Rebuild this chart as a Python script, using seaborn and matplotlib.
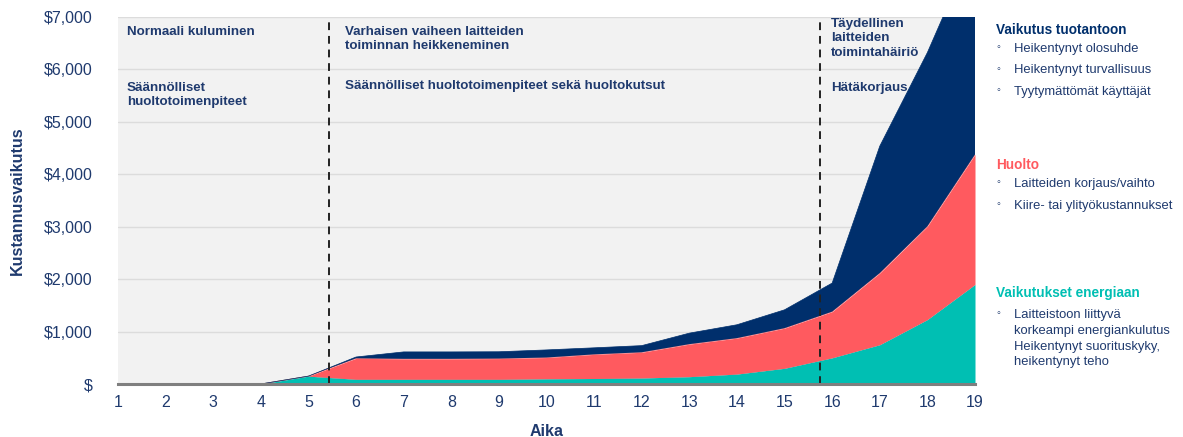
import numpy as np
import pandas as pd
import matplotlib
matplotlib.use("Agg")
import matplotlib.pyplot as plt
import seaborn as sns

# ---- data ----
aika = list(range(1, 20))
energia = [0, 0, 0, 0, 150, 90, 90, 90, 90, 100, 105, 115, 140, 190, 300, 500, 750, 1230, 1900]
huolto = [0, 0, 0, 0, 0, 400, 390, 390, 395, 405, 460, 490, 620, 685, 765, 880, 1366, 1778, 2478]
tuotanto = [0, 0, 0, 0, 0, 25, 132, 132, 130, 145, 125, 127, 210, 255, 350, 545, 2421, 3314, 4022]
yticks = [0, 1000, 2000, 3000, 4000, 5000, 6000, 7000]
ytick_labels = ["$", "$1,000", "$2,000", "$3,000", "$4,000", "$5,000", "$6,000", "$7,000"]
phase_lines = [5.43, 15.75]

NAVY = "#002f6c"
RED = "#ff5a5f"
TEAL = "#00bfb3"
TXT = "#1f3a6e"

sns.set_style("white")
plt.rcParams["font.family"] = ["Liberation Sans", "DejaVu Sans"]

df = pd.DataFrame({"Aika": aika, "energia": energia, "huolto": huolto, "tuotanto": tuotanto})
df["c1"] = df["energia"]
df["c2"] = df["c1"] + df["huolto"]
df["c3"] = df["c2"] + df["tuotanto"]

fig = plt.figure(figsize=(11.83, 4.37), dpi=100)
ax = fig.add_axes([118 / 1183, 53 / 437, (975 - 118) / 1183, (384 - 17) / 437])
ax.set_facecolor("#f2f2f2")

for lo, hi, col in [(None, "c1", TEAL), ("c1", "c2", RED), ("c2", "c3", NAVY)]:
    base = np.zeros(len(df)) if lo is None else df[lo].values
    ax.fill_between(df["Aika"], base, df[hi], color=col, linewidth=0, zorder=2)
    sns.lineplot(data=df, x="Aika", y=hi, ax=ax, color=col, linewidth=0.5, zorder=2)

ax.set_xlim(1, 19)
ax.set_ylim(0, 7000)
ax.set_yticks(yticks)
ax.set_yticklabels(ytick_labels)
ax.set_xticks(aika)
ax.set_xticklabels([str(a) for a in aika])
ax.yaxis.grid(True, color="#dcdcdc", linewidth=1, zorder=1)
ax.set_axisbelow(True)
for s in ["top", "right", "left"]:
    ax.spines[s].set_visible(False)
ax.spines["bottom"].set_color("#7f7f7f")
ax.spines["bottom"].set_linewidth(2.2)
ax.spines["bottom"].set_zorder(5)
ax.tick_params(axis="both", length=0, labelsize=11.5, colors=TXT)
ax.tick_params(axis="x", pad=8)
ax.tick_params(axis="y", pad=18)

ax.set_xlabel("Aika", fontsize=11.5, fontweight="bold", color=TXT, labelpad=10)
ax.set_ylabel("Kustannusvaikutus", fontsize=11.5, fontweight="bold", color=TXT, labelpad=14)

for xv in phase_lines:
    ax.axvline(xv, color="#222222", linestyle=(0, (4, 3)), linewidth=1.4, zorder=4)

fs = 9.6
def at(x, y, s, **kw):
    fig.text(x / 1183, 1 - y / 437, s, fontsize=kw.pop("fontsize", fs), color=kw.pop("color", TXT),
             fontweight=kw.pop("fontweight", "bold"), va="top", ha="left",
             linespacing=kw.pop("linespacing", 1.25), **kw)

at(127, 26, "Normaali kuluminen")
at(127, 82, "Säännölliset\nhuoltotoimenpiteet")
at(345, 26, "Varhaisen vaiheen laitteiden\ntoiminnan heikkeneminen")
at(345, 80, "Säännölliset huoltotoimenpiteet sekä huoltokutsut")
at(831, 18, "Täydellinen\nlaitteiden\ntoimintahäiriö")
at(831, 82, "Hätäkorjaus")

# right-side legend text
lx, bx, tx = 996, 996, 1014
at(lx, 23, "Vaikutus tuotantoon", color=NAVY, fontsize=9.8)
for i, s in enumerate(["Heikentynyt olosuhde", "Heikentynyt turvallisuus", "Tyytymättömät käyttäjät"]):
    y = 43 + i * 21.5
    at(bx, y - 1, "◦", fontweight="normal", fontsize=8)
    at(tx, y, s, fontweight="normal", fontsize=9.4)
at(lx, 158, "Huolto", color=RED, fontsize=9.8)
for i, s in enumerate(["Laitteiden korjaus/vaihto", "Kiire- tai ylityökustannukset"]):
    y = 178 + i * 22
    at(bx, y - 1, "◦", fontweight="normal", fontsize=8)
    at(tx, y, s, fontweight="normal", fontsize=9.4)
at(lx, 286, "Vaikutukset energiaan", color=TEAL, fontsize=9.8)
at(bx, 308, "◦", fontweight="normal", fontsize=8)
at(tx, 309, "Laitteistoon liittyvä\nkorkeampi energiankulutus\nHeikentynyt suorituskyky,\nheikentynyt teho",
   fontweight="normal", fontsize=9.4, linespacing=1.42)

fig.savefig("out.png", dpi=100)
